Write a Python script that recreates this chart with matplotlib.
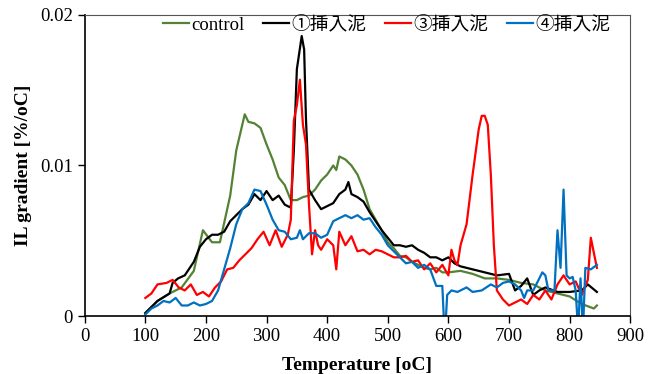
import numpy as np
import matplotlib
matplotlib.use("Agg")
import matplotlib.pyplot as plt

plt.rcParams['font.family'] = ['Liberation Serif', 'Noto Sans CJK JP', 'DejaVu Sans']

# control
t_ctrl = [100, 110, 120, 140, 160, 180, 195, 210, 223, 240, 250, 264, 270, 280, 290, 300,
          310, 320, 330, 340, 350, 360, 370, 380, 390, 400, 410, 415, 420, 430, 440, 450,
          460, 470, 480, 490, 500, 510, 520, 530, 540, 550, 560, 570, 580, 590, 600, 620,
          640, 660, 680, 700, 720, 740, 760, 780, 800, 820, 840, 845]
v_ctrl = [0.0002, 0.0006, 0.0010, 0.0015, 0.0019, 0.0030, 0.0057, 0.0049, 0.0049, 0.0080,
          0.0110, 0.0134, 0.0129, 0.0128, 0.0125, 0.0114, 0.0104, 0.0092, 0.0087, 0.0077,
          0.0077, 0.0079, 0.0080, 0.0084, 0.0090, 0.0094, 0.0100, 0.0097, 0.0106, 0.0104,
          0.0100, 0.0094, 0.0084, 0.0071, 0.0064, 0.0057, 0.0049, 0.0045, 0.0040, 0.0039,
          0.0036, 0.0034, 0.0032, 0.0031, 0.0032, 0.0029, 0.0029, 0.0030, 0.0028, 0.0025,
          0.0025, 0.0024, 0.0022, 0.0021, 0.0017, 0.0015, 0.0013, 0.0008, 0.0005, 0.0007]

# 1
t_s1 = [100, 110, 120, 140, 145, 154, 165, 180, 190, 200, 210, 220, 230, 240, 250, 260,
        270, 280, 290, 300, 310, 320, 330, 340, 345, 350, 358, 362, 365, 370, 380, 390,
        400, 410, 420, 430, 435, 440, 450, 460, 470, 480, 490, 500, 510, 520, 530, 540,
        550, 560, 570, 580, 590, 600, 610, 620, 640, 660, 680, 700, 710, 720, 730, 740,
        750, 760, 780, 800, 820, 830, 845]
v_s1 = [0.0002, 0.0006, 0.0010, 0.0015, 0.0022, 0.0025, 0.0027, 0.0036, 0.0046, 0.0051,
        0.0054, 0.0054, 0.0056, 0.0063, 0.0067, 0.0071, 0.0074, 0.0081, 0.0077, 0.0083,
        0.0077, 0.0080, 0.0074, 0.0072, 0.0110, 0.0164, 0.0186, 0.0177, 0.0131, 0.0084,
        0.0077, 0.0071, 0.0073, 0.0075, 0.0081, 0.0084, 0.0089, 0.0081, 0.0079, 0.0076,
        0.0069, 0.0063, 0.0057, 0.0052, 0.0047, 0.0047, 0.0046, 0.0047, 0.0044, 0.0042,
        0.0039, 0.0039, 0.0037, 0.0039, 0.0035, 0.0033, 0.0031, 0.0029, 0.0027, 0.0028,
        0.0017, 0.0020, 0.0025, 0.0014, 0.0017, 0.0019, 0.0016, 0.0016, 0.0017, 0.0021,
        0.0016]

# 3
t_s3 = [100, 110, 120, 135, 145, 155, 165, 175, 185, 195, 205, 215, 225, 235, 245, 255,
        265, 275, 285, 295, 305, 315, 325, 335, 340, 345, 350, 355, 360, 365, 370, 375,
        380, 385, 390, 400, 410, 415, 420, 430, 440, 450, 460, 470, 480, 490, 500, 510,
        520, 530, 540, 550, 560, 570, 580, 590, 600, 605, 610, 615, 620, 630, 640, 650,
        655, 660, 665, 670, 675, 680, 690, 700, 710, 720, 730, 740, 750, 760, 770, 780,
        790, 800, 810, 820, 830, 835, 845]
v_s3 = [0.0012, 0.0015, 0.0021, 0.0022, 0.0024, 0.0019, 0.0017, 0.0021, 0.0014, 0.0016,
        0.0013, 0.0019, 0.0023, 0.0031, 0.0032, 0.0037, 0.0041, 0.0045, 0.0051, 0.0056,
        0.0047, 0.0057, 0.0046, 0.0054, 0.0064, 0.0130, 0.0140, 0.0157, 0.0127, 0.0114,
        0.0074, 0.0041, 0.0057, 0.0047, 0.0044, 0.0051, 0.0047, 0.0031, 0.0056, 0.0047,
        0.0053, 0.0043, 0.0044, 0.0041, 0.0044, 0.0043, 0.0041, 0.0039, 0.0039, 0.0040,
        0.0036, 0.0037, 0.0031, 0.0035, 0.0029, 0.0034, 0.0027, 0.0044, 0.0037, 0.0034,
        0.0047, 0.0061, 0.0094, 0.0124, 0.0133, 0.0133, 0.0127, 0.0094, 0.0047, 0.0017,
        0.0011, 0.0007, 0.0009, 0.0011, 0.0008, 0.0014, 0.0011, 0.0017, 0.0011, 0.0021,
        0.0027, 0.0021, 0.0023, 0.0014, 0.0024, 0.0052, 0.0032]

# 4
t_s4 = [100, 110, 120, 130, 140, 150, 160, 170, 180, 190, 200, 210, 220, 230, 240, 250,
        260, 270, 280, 290, 300, 310, 320, 330, 340, 350, 355, 360, 370, 380, 390, 400,
        410, 420, 430, 440, 450, 460, 470, 480, 490, 500, 510, 520, 530, 540, 550, 560,
        570, 580, 590, 594, 598, 605, 615, 630, 640, 655, 670, 680, 690, 700, 710, 720,
        725, 730, 740, 755, 760, 765, 775, 780, 785, 790, 795, 800, 805, 810, 814, 818,
        822, 826, 835, 845]
v_s4 = [0.0001, 0.0005, 0.0007, 0.0010, 0.0009, 0.0012, 0.0007, 0.0007, 0.0009, 0.0007,
        0.0008, 0.0010, 0.0017, 0.0031, 0.0045, 0.0061, 0.0071, 0.0075, 0.0084, 0.0083,
        0.0074, 0.0064, 0.0057, 0.0056, 0.0051, 0.0052, 0.0057, 0.0051, 0.0055, 0.0055,
        0.0052, 0.0054, 0.0063, 0.0065, 0.0067, 0.0065, 0.0067, 0.0064, 0.0065, 0.0059,
        0.0054, 0.0047, 0.0043, 0.0039, 0.0035, 0.0036, 0.0032, 0.0034, 0.0031, 0.0020,
        0.0020, -0.0015, 0.0014, 0.0017, 0.0016, 0.0019, 0.0016, 0.0017, 0.0021, 0.0019,
        0.0022, 0.0023, 0.0021, 0.0017, 0.0012, 0.0017, 0.0017, 0.0029, 0.0027, 0.0017,
        0.0017, 0.0057, 0.0032, 0.0084, 0.0027, 0.0025, 0.0026, 0.0017, -0.0010, 0.0025,
        -0.0010, 0.0032, 0.0031, 0.0034]

x_ticks = [0, 100, 200, 300, 400, 500, 600, 700, 800, 900]
y_ticks = [0, 0.01, 0.02]
y_tick_labels = ['0', '0.01', '0.02']

fig = plt.figure(figsize=(6.62, 3.74), dpi=100)
ax = fig.add_axes([0.128, 0.155, 0.824, 0.805])

ax.plot(t_ctrl, v_ctrl, color='#548235', lw=1.6, label='control')
ax.plot(t_s1, v_s1, color='black', lw=1.6, label='①挿入泥')
ax.plot(t_s3, v_s3, color='#ff0000', lw=1.6, label='③挿入泥')
ax.plot(t_s4, v_s4, color='#0070c0', lw=1.6, label='④挿入泥')

ax.set_xlim(0, 900)
ax.set_ylim(0, 0.02)
ax.set_xticks(x_ticks)
ax.set_yticks(y_ticks)
ax.set_yticklabels(y_tick_labels)
ax.tick_params(labelsize=13.5, direction='out', length=5, width=1)

for s in ['top', 'right']:
    ax.spines[s].set_color('#555555')
    ax.spines[s].set_linewidth(0.8)
for s in ['left', 'bottom']:
    ax.spines[s].set_linewidth(1.2)

ax.set_xlabel('Temperature [oC]', fontsize=14, fontweight='bold', labelpad=9)
ax.set_ylabel('IL gradient [%/oC]', fontsize=14, fontweight='bold', labelpad=6)

ax.legend(loc='upper center', bbox_to_anchor=(0.553, 1.02), ncol=4, frameon=False,
          fontsize=13.5, handlelength=1.4, handletextpad=0.1, columnspacing=1.0,
          borderaxespad=0)

plt.savefig('out.png', dpi=100)
